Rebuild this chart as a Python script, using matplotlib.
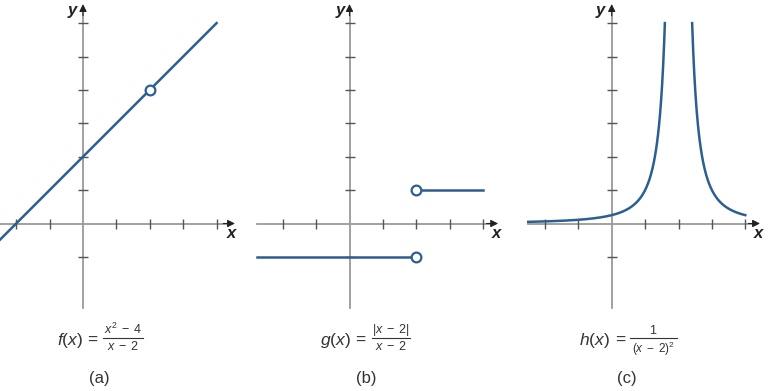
import numpy as np
import matplotlib
matplotlib.use("Agg")
import matplotlib.pyplot as plt
from matplotlib.lines import Line2D

plt.rcParams['mathtext.fontset'] = 'custom'
plt.rcParams['mathtext.rm'] = 'Liberation Sans'
plt.rcParams['mathtext.it'] = 'Liberation Sans:italic'
plt.rcParams['font.family'] = ['Liberation Sans', 'DejaVu Sans']

# ---- data ----
# (a) f(x) = (x^2-4)/(x-2): line y = x + 2 with a hole at (2, 4)
a_x = [-2.5, 4.0]
a_y = [-0.5, 6.0]
a_hole_x = [2.0]
a_hole_y = [4.0]

# (b) g(x) = |x-2|/(x-2): two horizontal pieces, holes at x = 2
b_left_x = [-2.77, 2.0]
b_left_y = [-1.0, -1.0]
b_right_x = [2.0, 4.0]
b_right_y = [1.0, 1.0]
b_hole_x = [2.0, 2.0]
b_hole_y = [-1.0, 1.0]

# (c) h(x) = 1/(x-2)^2, shown for y <= 6
c_xmin, c_xmax, c_ymax = -2.5, 4.0, 6.0

x_ticks = [-2, -1, 1, 2, 3, 4]
y_ticks = [-1, 1, 2, 3, 4, 5, 6]

func_names = [r'$f(x)$', r'$g(x)$', r'$h(x)$']
numerators = [r'$x^{2}\;-\;4$', r'$|x\;-\;2|$', r'$1$']
denominators = [r'$x\;-\;2$', r'$x\;-\;2$', r'$(x\;-\;2)^{2}$']
captions = ['(a)', '(b)', '(c)']

# ---- layout ----
W, H = 768, 391
U = 33.4
BLUE = '#2c5f91'
AXC = '#9a9a9a'
TICKC = '#555555'
TXT = '#333333'

fig = plt.figure(figsize=(W / 100, H / 100), dpi=100)


def make_ax(ox, oy, xlim, ylim):
    left = (ox + xlim[0] * U) / W
    width = (xlim[1] - xlim[0]) * U / W
    bottom = 1 - (oy - ylim[0] * U) / H
    height = (ylim[1] - ylim[0]) * U / H
    ax = fig.add_axes([left, bottom, width, height])
    ax.set_xlim(*xlim)
    ax.set_ylim(*ylim)
    ax.axis('off')
    return ax


def draw_axes(ax, xa, ya, ylab_x, xlab_x):
    ax.plot([xa[0], xa[1] - 0.2], [0, 0], color=AXC, lw=1.3, zorder=1, clip_on=False)
    ax.plot([0, 0], [ya[0], ya[1] - 0.2], color=AXC, lw=1.3, zorder=1, clip_on=False)
    ax.annotate('', xy=(xa[1], 0), xytext=(xa[1] - 0.35, 0),
                arrowprops=dict(arrowstyle='-|>', color='#222222', lw=0.8,
                                mutation_scale=11, shrinkA=0, shrinkB=0))
    ax.annotate('', xy=(0, ya[1]), xytext=(0, ya[1] - 0.35),
                arrowprops=dict(arrowstyle='-|>', color='#222222', lw=0.8,
                                mutation_scale=11, shrinkA=0, shrinkB=0))
    ax.plot(x_ticks, [0] * len(x_ticks), ls='none', marker='|', ms=7,
            mew=1.0, color=TICKC, zorder=2)
    ax.plot([0] * len(y_ticks), y_ticks, ls='none', marker='_', ms=7,
            mew=1.0, color=TICKC, zorder=2)
    ax.text(ylab_x, 6.38, 'y', fontsize=12, fontweight='bold', style='italic',
            color='#222222', ha='center', va='center')
    ax.text(xlab_x, -0.3, 'x', fontsize=12, fontweight='bold', style='italic',
            color='#222222', ha='center', va='center')


YLIM = (-2.53, 6.6)

# panel (a)
axa = make_ax(83.0, 223.5, (-2.5, 4.6), YLIM)
draw_axes(axa, (-2.5, 4.55), (-2.53, 6.57), -0.33, 4.43)
axa.plot(a_x, a_y, color=BLUE, lw=1.8, zorder=3, clip_on=False)
axa.plot(a_hole_x, a_hole_y, 'o', ms=7, mfc='white', mec=BLUE, mew=1.6, zorder=4)

# panel (b)
axb = make_ax(349.5, 223.5, (-2.8, 4.6), YLIM)
draw_axes(axb, (-2.77, 4.45), (-2.53, 6.57), -0.28, 4.41)
axb.plot(b_left_x, b_left_y, color=BLUE, lw=1.8, zorder=3)
axb.plot(b_right_x, b_right_y, color=BLUE, lw=1.8, zorder=3)
axb.plot(b_hole_x, b_hole_y, 'o', ms=7, mfc='white', mec=BLUE, mew=1.6, zorder=4)

# panel (c)
axc = make_ax(611.7, 223.5, (-2.55, 4.6), YLIM)
draw_axes(axc, (-2.5, 4.44), (-2.53, 6.57), -0.35, 4.4)
d = 1 / np.sqrt(c_ymax)
xl = np.linspace(c_xmin, 2 - d, 400)
xr = np.linspace(2 + d, c_xmax, 400)
axc.plot(xl, 1 / (xl - 2) ** 2, color=BLUE, lw=1.8, zorder=3)
axc.plot(xr, 1 / (xr - 2) ** 2, color=BLUE, lw=1.8, zorder=3)

# formulas and captions (pixel positions)
name_cx = [70, 335, 594]
eq_cx = [92, 360, 620]
frac_x0 = [103, 372, 630]
frac_x1 = [143, 410, 677]
num_base = [333.5, 333.5, 333.5]
den_base = [349.5, 349.5, 352.5]
den_size = [9, 9, 8.5]
cap_cx = [99, 366, 627]


def fx(p):
    return p / W


def fy(p):
    return 1 - p / H


for i in range(3):
    fig.text(fx(name_cx[i]), fy(345), func_names[i], fontsize=12.5,
             ha='center', va='baseline', color=TXT)
    fig.text(fx(eq_cx[i]), fy(345), '=', fontsize=12.5,
             ha='center', va='baseline', color=TXT)
    cxm = (frac_x0[i] + frac_x1[i]) / 2
    fig.add_artist(Line2D([fx(frac_x0[i]), fx(frac_x1[i])], [fy(337.5), fy(337.5)],
                          color=TXT, lw=0.8))
    fig.text(fx(cxm), fy(num_base[i]), numerators[i], fontsize=9,
             ha='center', va='baseline', color=TXT)
    fig.text(fx(cxm), fy(den_base[i]), denominators[i], fontsize=den_size[i],
             ha='center', va='baseline', color=TXT)
    fig.text(fx(cap_cx[i]), fy(379), captions[i], fontsize=12,
             ha='center', va='center', color=TXT)

fig.savefig('out.png', dpi=100)
